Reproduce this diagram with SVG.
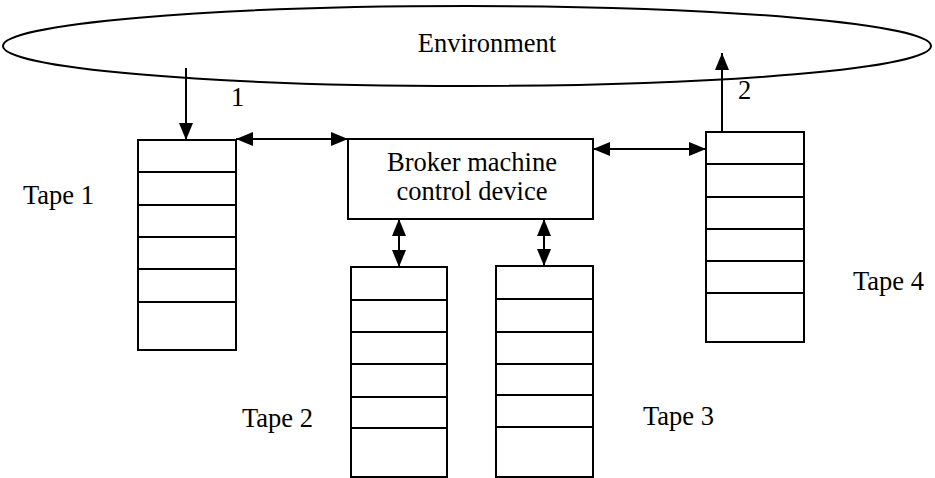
<svg xmlns="http://www.w3.org/2000/svg" width="935" height="478" viewBox="0 0 935 478">
<style>
.s{fill:none;stroke:#000;stroke-width:2}
.b{fill:#fff;stroke:#000;stroke-width:2}
.t{font-family:"Liberation Serif","Times New Roman",serif;font-size:26.5px;fill:#000}
.m{text-anchor:middle}
</style>
<defs>
<marker id="ah" viewBox="0 0 17 14" refX="17" refY="7" markerWidth="17" markerHeight="14" markerUnits="userSpaceOnUse" orient="auto-start-reverse">
<path d="M0,0 L17,7 L0,14 z" fill="#000"/>
</marker>
</defs>
<rect width="935" height="478" fill="#fff"/>
<g id="environment">
<ellipse class="s" cx="467" cy="46" rx="464" ry="40"/>
<text class="t m" x="487" y="52">Environment</text>
</g>
<g id="broker">
<rect class="b" x="348" y="139" width="245" height="80"/>
<text class="t m" x="472" y="171">Broker machine</text>
<text class="t m" x="472" y="200">control device</text>
</g>
<g id="tape1">
<rect class="b" x="138" y="140" width="98" height="210"/>
<path class="s" d="M138,172H236M138,205H236M138,237H236M138,269H236M138,302H236"/>
<text class="t" x="23" y="204">Tape 1</text>
</g>
<g id="tape2">
<rect class="b" x="351" y="267" width="96" height="210"/>
<path class="s" d="M351,300H447M351,332H447M351,364H447M351,397H447M351,428H447"/>
<text class="t" x="242" y="427">Tape 2</text>
</g>
<g id="tape3">
<rect class="b" x="496" y="266" width="97" height="211"/>
<path class="s" d="M496,299H593M496,332H593M496,364H593M496,395H593M496,427H593"/>
<text class="t" x="643" y="425">Tape 3</text>
</g>
<g id="tape4">
<rect class="b" x="706" y="132" width="98" height="210"/>
<path class="s" d="M706,164H804M706,197H804M706,229H804M706,261H804M706,293H804"/>
<text class="t" x="853" y="290">Tape 4</text>
</g>
<g id="connectors">
<line class="s" x1="186" y1="68" x2="186" y2="140" marker-end="url(#ah)"/>
<text class="t" x="231" y="106">1</text>
<line class="s" x1="722" y1="132" x2="722" y2="53" marker-end="url(#ah)"/>
<text class="t" x="738" y="99">2</text>
<line class="s" x1="236" y1="139" x2="348" y2="139" marker-start="url(#ah)" marker-end="url(#ah)"/>
<line class="s" x1="593" y1="149" x2="706" y2="149" marker-start="url(#ah)" marker-end="url(#ah)"/>
<line class="s" x1="399" y1="219" x2="399" y2="267" marker-start="url(#ah)" marker-end="url(#ah)"/>
<line class="s" x1="544" y1="219" x2="544" y2="266" marker-start="url(#ah)" marker-end="url(#ah)"/>
</g>
</svg>
